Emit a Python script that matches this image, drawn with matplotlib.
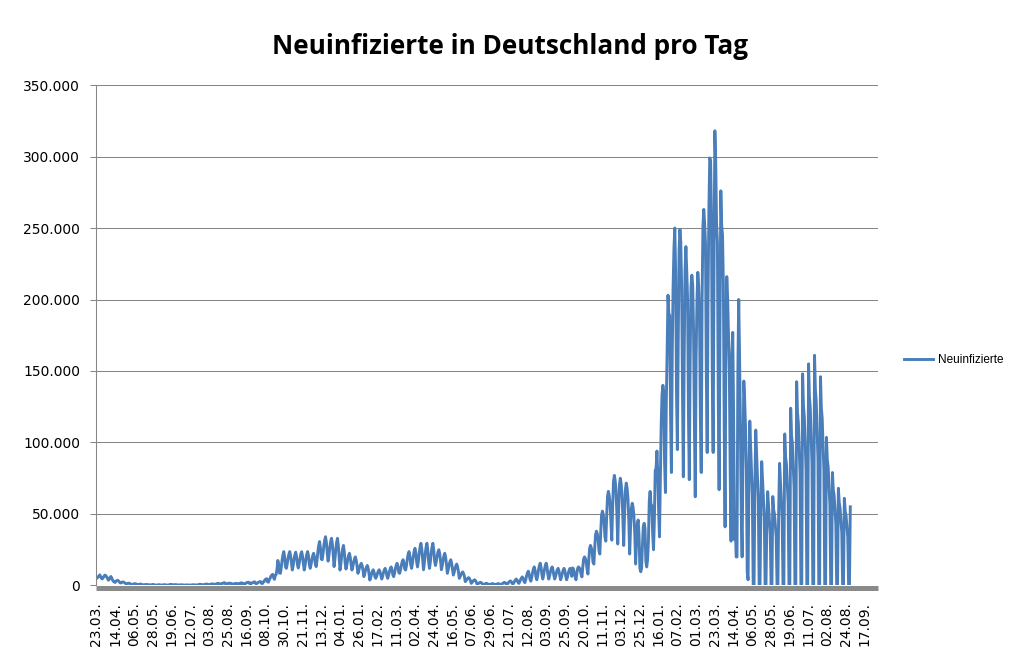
import matplotlib.pyplot as plt
import matplotlib.ticker as mticker
import numpy as np

# Neuinfizierte pro Tag in Tausend, je Zeile eine Woche (Mo-So) ab 23.03.2020.
# Zwei Wochen sind in der Quelle unvollstaendig (fehlende Tage).
neuinfizierte_tsd = [
    4.8, 5.4, 5.9, 6.8, 7.4, 6.3, 4.9,
    4.6, 5.5, 6.3, 7.3, 6.9, 6.1, 5.1,
    3.7, 4.3, 5.6, 6.3, 5.3, 3.8, 2.9,
    2.5, 2.1, 2.9, 3.4, 3.6, 3.2, 2.5,
    1.8, 1.8, 2.3, 2.5, 2.3, 2.0, 1.5,
    1.1, 1.3, 1.5, 1.6, 1.5, 1.1, 0.8,
    0.7, 0.9, 1.1, 1.3, 1.2, 1.0, 0.7,
    0.6, 0.8, 0.9, 1.0, 0.8, 0.6, 0.5,
    0.4, 0.6, 0.7, 0.7, 0.6, 0.6, 0.5,
    0.3, 0.4, 0.6, 0.7, 0.7, 0.5, 0.3,
    0.3, 0.3, 0.4, 0.5, 0.6, 0.4, 0.3,
    0.3, 0.4, 0.5, 0.6, 0.4, 0.4, 0.3,
    0.2, 0.4, 0.6, 0.8, 0.7, 0.6,
    0.5, 0.5, 0.6, 0.6, 0.5, 0.5, 0.3,
    0.3, 0.4, 0.5, 0.5, 0.4, 0.4, 0.3,
    0.3, 0.4, 0.4, 0.4, 0.4, 0.3, 0.3,
    0.2, 0.4, 0.5, 0.5, 0.5, 0.4, 0.3,
    0.3, 0.5, 0.6, 0.8, 0.8, 0.8, 0.4,
    0.4, 0.6, 0.7, 0.9, 1.0, 1.0, 0.5,
    0.5, 0.7, 0.9, 1.0, 1.1, 1.1, 0.6,
    0.4, 1.0, 1.2, 1.4, 1.5, 1.4, 0.7,
    0.6, 1.4, 1.5, 1.7, 2.0, 1.7, 0.8,
    0.7, 1.3, 1.6, 1.5, 1.6, 1.5, 0.8,
    0.6, 1.2, 1.3, 1.3, 1.5, 1.4, 0.9,
    0.8, 1.5, 1.4, 1.9, 1.6, 1.6, 0.9,
    0.9, 1.4, 1.8, 2.2, 2.0, 2.3, 1.3,
    0.9, 1.8, 1.8, 2.1, 2.5, 2.5, 1.4,
    1.2, 1.8, 2.1, 2.5, 2.7, 2.6, 1.4,
    1.4, 2.6, 2.8, 4.1, 4.5, 4.7, 2.5,
    2.3, 4.1, 5.1, 6.6, 7.3, 7.8, 5.6,
    4.3, 6.9, 7.6, 11.3, 17.5, 14.7, 8.7,
    8.5, 12.3, 17.6, 21.4, 23.7, 19.9, 13.1,
    12.0, 14.9, 19.0, 21.9, 23.7, 20.8, 15.5,
    10.8, 13.9, 18.3, 21.4, 23.3, 20.2, 14.6,
    12.2, 15.1, 18.8, 22.1, 23.6, 20.5, 15.2,
    10.8, 14.0, 18.5, 21.8, 23.7, 20.5, 14.7,
    12.0, 14.6, 18.3, 20.9, 22.5, 19.9, 15.2,
    13.2, 17.6, 23.7, 28.1, 30.7, 26.3, 18.5,
    18.0, 22.0, 27.7, 31.7, 34.1, 30.1, 22.8,
    17.0, 21.0, 26.6, 30.6, 33.0, 29.0, 21.8,
    13.2, 18.2, 25.1, 30.0, 33.0, 28.1, 19.1,
    10.8, 15.1, 21.1, 25.4, 28.0, 23.7, 16.0,
    11.5, 14.3, 18.1, 20.9, 22.5, 19.8, 14.8,
    10.8, 13.1, 16.3, 18.6, 20.0, 17.7, 13.6,
    8.5, 10.3, 12.7, 14.5, 15.5, 13.8, 10.6,
    6.2, 8.2, 10.9, 12.8, 14.0, 12.1, 8.5,
    3.8, 5.6, 8.1, 9.9, 11.0, 9.2, 6.0,
    5.0, 6.5, 8.6, 10.1, 11.0, 9.5, 6.8,
    4.5, 6.4, 9.0, 10.9, 12.0, 10.1, 6.8,
    5.0, 7.0, 9.8, 11.8, 13.0, 11.0, 7.4,
    6.2, 8.5, 11.8, 14.1, 15.5, 13.2, 9.0,
    8.5, 10.9, 14.2, 16.6, 18.0, 15.6, 11.4,
    10.8, 14.0, 18.5, 21.8, 23.7, 20.5, 14.7,
    12.0, 15.5, 20.4, 23.9, 26.0, 22.5, 16.2,
    13.0, 17.1, 22.9, 27.0, 29.5, 25.4, 18.0,
    11.0, 15.6, 22.1, 26.7, 29.5, 24.9, 16.6,
    12.0, 16.4, 22.5, 26.9, 29.5, 25.1, 17.3,
    14.0, 16.8, 20.6, 23.4, 25.0, 22.3, 17.3,
    11.0, 13.9, 17.9, 20.8, 22.5, 19.6, 14.5,
    8.5, 10.9, 14.2, 16.6, 18.0, 15.6, 11.4,
    7.3, 9.2, 11.9, 13.8, 15.0, 13.1, 9.6,
    5.0, 6.1, 7.7, 8.8, 9.5, 8.4, 6.4,
    2.7, 3.4, 4.4, 5.1, 5.5, 4.8, 3.5,
    1.5, 2.1, 3.0, 3.6, 4.0, 3.4, 2.3,
    0.8, 1.2, 1.6, 2.0, 2.2, 1.9, 1.2,
    0.5, 0.8, 1.1, 1.4, 1.5, 1.3, 0.8,
    0.4, 0.6, 0.9, 1.2, 1.3, 1.1, 0.7,
    0.4, 0.7, 1.0, 1.2, 1.3, 1.1, 0.7,
    0.5, 0.9, 1.5, 1.9, 2.2, 1.8, 1.0,
    0.8, 1.4, 2.2, 2.8, 3.2, 2.6, 1.5,
    1.0, 1.9, 3.1, 4.0, 4.5, 3.6, 2.0,
    1.5, 2.6, 4.2, 5.3, 6.0, 4.9, 2.9,
    2.0, 4.0, 6.8, 8.8, 10.0, 8.0, 4.4,
    3.0, 5.5, 9.0, 11.5, 13.0, 10.5, 6.0,
    4.0, 6.9, 11.0, 13.9, 15.6, 12.7, 7.5,
    4.5, 7.3, 11.2, 14.0, 15.6, 12.8, 7.8,
    4.5, 6.6, 9.6, 11.7, 13.0, 10.9, 7.1,
    4.5, 6.4, 9.0, 10.9, 12.0, 10.1, 6.8,
    4.0, 6.0, 8.8, 10.8, 12.0, 10.0, 6.4,
    4.0, 6.0, 8.8, 10.8, 12.0, 10.0, 6.4,
    12.3, 11.5, 9.0, 6.0,
    4.0, 8.5, 12.1, 13.0, 12.3, 10.8, 7.6,
    6.0, 13.0, 18.6, 20.0, 18.9, 16.5, 11.6,
    8.0, 18.0, 26.0, 28.0, 26.4, 23.0, 16.0,
    15.0, 26.5, 35.7, 38.0, 36.2, 32.3, 24.2,
    22.0, 37.0, 49.0, 52.0, 49.6, 44.5, 34.0,
    31.0, 48.4, 62.3, 65.8, 63.0, 57.1, 44.9,
    31.7, 54.4, 72.5, 77.0, 73.4, 65.7, 49.8,
    29.0, 52.0, 70.4, 75.0, 71.3, 63.5, 47.4,
    28.0, 49.8, 67.2, 71.6, 68.1, 60.7, 45.4,
    22.0, 39.8, 54.0, 57.5, 54.7, 48.6, 36.2,
    15.0, 30.0, 43.0, 45.8, 35.0, 12.0, 9.6,
    12.0, 28.0, 41.0, 43.5, 40.0, 17.0, 13.0,
    18.0, 30.6, 58.9, 65.8, 56.3, 55.9, 36.5,
    25.0, 45.7, 80.4, 82.0, 94.0, 78.0, 52.5,
    34.0, 74.4, 112.3, 133.5, 140.0, 135.5, 85.4,
    65.0, 127.0, 164.0, 203.0, 190.0, 189.0, 119.0,
    79.0, 163.0, 208.5, 236.0, 250.0, 218.0, 134.0,
    95.0, 170.0, 234.0, 249.0, 240.0, 210.0, 137.0,
    76.0, 159.0, 220.0, 237.0, 220.0, 200.0, 120.0,
    74.0, 158.0, 209.0, 217.0, 210.0, 178.0, 113.0,
    62.0, 159.0, 199.0, 219.0, 210.0, 190.0, 118.0,
    79.0, 199.0, 251.0, 263.0, 253.0, 239.0, 146.0,
    93.0, 200.0, 262.6, 299.0, 297.0, 259.0, 146.0,
    93.0, 222.0, 318.0, 296.0, 253.0, 240.0, 130.0,
    67.0, 180.0, 276.0, 252.0, 245.0, 210.0, 110.0,
    41.0, 180.0, 216.0, 201.0, 175.0, 150.0, 80.0,
    31.0, 162.0, 177.0, 120.0, 32.0, 45.0, 20.0,
    20.0, 150.0, 200.0, 160.0, 110.0, 50.0, 20.0,
    90.0, 143.0, 130.0, 110.0, 80.0, 9.0, 4.0,
    75.0, 115.0, 98.0, 80.0, 63.0, 0.0, 0.0,
    71.0, 108.7, 92.0, 76.0, 60.0, 0.0, 0.0,
    56.0, 86.6, 74.0, 61.0, 48.0, 0.0, 0.0,
    43.0, 65.6, 56.0, 46.0, 36.0, 0.0, 0.0,
    62.2, 53.0, 50.0, 42.0, 34.0, 0.0, 0.0,
    55.0, 85.4, 73.0, 60.0, 47.0, 0.0, 0.0,
    106.0, 90.0, 85.0, 72.0, 58.0, 0.0, 0.0,
    124.0, 105.0, 99.0, 84.0, 68.0, 0.0, 0.0,
    142.5, 121.0, 114.0, 97.0, 78.0, 0.0, 0.0,
    148.0, 126.0, 118.0, 101.0, 81.0, 0.0, 0.0,
    155.0, 132.0, 124.0, 105.0, 85.0, 0.0, 0.0,
    161.0, 137.0, 129.0, 109.0, 89.0, 0.0, 0.0,
    146.0, 124.0, 117.0, 99.0, 80.0, 0.0, 0.0,
    103.6, 88.0, 83.0, 70.0, 57.0, 0.0, 0.0,
    79.0, 67.0, 63.0, 54.0, 43.0, 0.0, 0.0,
    68.0, 58.0, 54.0, 46.0, 37.0, 0.0, 0.0,
    61.0, 52.0, 49.0, 41.0, 34.0, 0.0, 0.0,
    55.0,
]

datum_labels = [
    "23.03.", "14.04.", "06.05.", "28.05.", "19.06.", "12.07.", "03.08.",
    "25.08.", "16.09.", "08.10.", "30.10.", "21.11.", "13.12.", "04.01.",
    "26.01.", "17.02.", "11.03.", "02.04.", "24.04.", "16.05.", "07.06.",
    "29.06.", "21.07.", "12.08.", "03.09.", "25.09.", "20.10.", "11.11.",
    "03.12.", "25.12.", "16.01.", "07.02.", "01.03.", "23.03.", "14.04.",
    "06.05.", "28.05.", "19.06.", "11.07.", "02.08.", "24.08.", "17.09.",
]
anzahl_kategorien = 918   # Kategorienachse inkl. leerer Tage am Ende
label_abstand = 22

werte = np.array(neuinfizierte_tsd) * 1000
tage = np.arange(len(werte))

blau = '#4a7ebb'
grau = '#868686'

fig = plt.figure(figsize=(10.1, 6.58), dpi=100)
ax = fig.add_axes([0.095, 0.1102, 0.7743, 0.7606])

ax.plot(tage, werte, color=blau, lw=2.1, solid_joinstyle='round',
        label='Neuinfizierte', zorder=2)

ax.set_xlim(-0.5, anzahl_kategorien - 0.5)
ax.set_ylim(0, 350000)
ax.set_yticks(np.arange(0, 350001, 50000))
ax.yaxis.set_major_formatter(
    mticker.FuncFormatter(lambda v, p: f'{int(v):,}'.replace(',', '.')))
ax.yaxis.grid(True, color=grau, lw=0.75)
ax.set_axisbelow(True)

ax.tick_params(axis='y', length=4.3, width=0.75, color=grau, pad=7,
               labelsize=10)
ax.tick_params(axis='x', length=0, pad=10, labelrotation=90)

ax.set_xticks(np.arange(len(datum_labels)) * label_abstand)
ax.set_xticklabels(datum_labels, rotation=90, fontsize=8,
                   family='Liberation Sans')

for s in ['top', 'right']:
    ax.spines[s].set_visible(False)
ax.spines['left'].set_color(grau)
ax.spines['left'].set_linewidth(0.75)
ax.spines['bottom'].set_color('#8a8a8a')
ax.spines['bottom'].set_linewidth(3.6)
ax.spines['bottom'].set_capstyle('butt')
ax.spines['bottom'].set_position(('outward', 1.8))

fig.text(0.505, 0.930, 'Neuinfizierte in Deutschland pro Tag',
         ha='center', va='center', fontsize=18.8, fontweight='bold',
         family='Open Sans')

fig.legend(loc='center left', bbox_to_anchor=(0.889, 0.453), frameon=False,
           borderpad=0, handlelength=2.5, handletextpad=0.4,
           prop={'family': 'Liberation Sans', 'size': 8.5})

fig.savefig('out.png', dpi=100, facecolor='white')
